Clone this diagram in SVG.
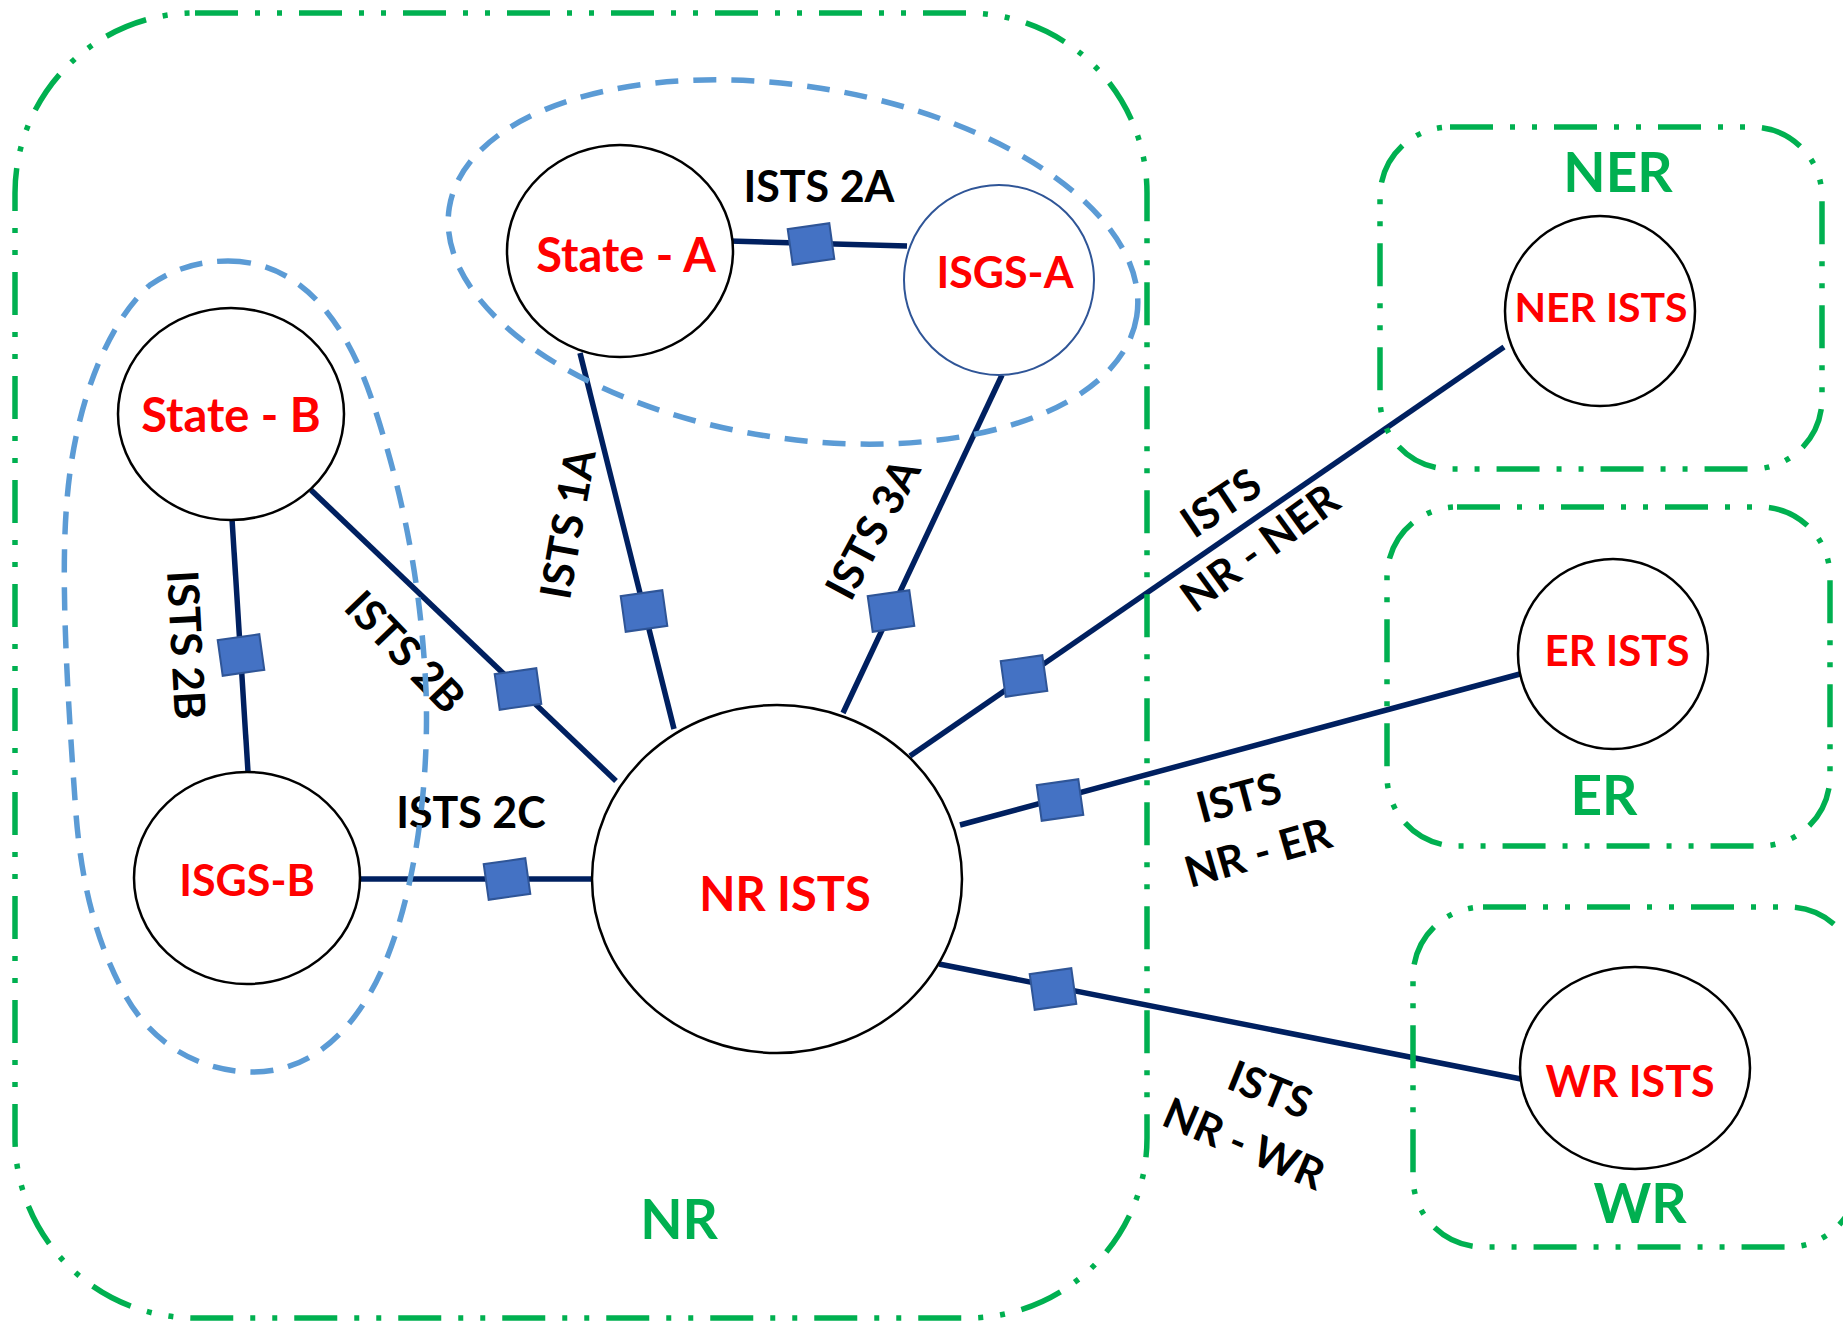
<svg xmlns="http://www.w3.org/2000/svg" width="1843" height="1321" viewBox="0 0 1843 1321">
<style>
.region{fill:none;stroke:#00B050;stroke-width:5.5;stroke-dasharray:43 17 5 17 5 17}
.cluster{fill:none;stroke:#5B9BD5;stroke-width:5.5;stroke-dasharray:23 15}
.link{stroke:#002060;stroke-width:5.5;fill:none}
.sq{fill:#4472C4;stroke:#2F5597;stroke-width:2}
.node{fill:#FFFFFF;stroke:#000000;stroke-width:2.5}
.nodeb{fill:#FFFFFF;stroke:#2F5597;stroke-width:2}
.red{fill:#FF0000;font-family:Lato,"Open Sans",sans-serif;font-weight:bold;text-anchor:middle}
.blk{fill:#000000;font-family:Lato,"Open Sans",sans-serif;font-weight:bold;font-size:43px;text-anchor:middle}
.grn{fill:#00B050;font-family:Lato,"Open Sans",sans-serif;font-weight:bold;font-size:55px;text-anchor:middle}
</style>
<defs>
<rect id="sq" class="sq" x="-21" y="-18" width="42" height="36"/>
</defs>
<rect width="1843" height="1321" fill="#FFFFFF"/>

<g id="connectors">
<line class="link" x1="729" y1="241" x2="907" y2="246"/>
<line class="link" x1="580" y1="353" x2="674" y2="729"/>
<line class="link" x1="1002" y1="375" x2="843" y2="713"/>
<line class="link" x1="232" y1="519" x2="248" y2="772"/>
<line class="link" x1="311" y1="490" x2="616" y2="781"/>
<line class="link" x1="359" y1="879" x2="592" y2="879"/>
<line class="link" x1="910" y1="756" x2="1504" y2="347"/>
<line class="link" x1="960" y1="825" x2="1520" y2="674"/>
<line class="link" x1="939" y1="964" x2="1521" y2="1079"/>
<use href="#sq" transform="translate(811,244) rotate(-8)"/>
<use href="#sq" transform="translate(644,611) rotate(-8)"/>
<use href="#sq" transform="translate(891,611) rotate(-8)"/>
<use href="#sq" transform="translate(241,655) rotate(-8)"/>
<use href="#sq" transform="translate(518,689) rotate(-8)"/>
<use href="#sq" transform="translate(507,879) rotate(-8)"/>
<use href="#sq" transform="translate(1024,676) rotate(-8)"/>
<use href="#sq" transform="translate(1060,800) rotate(-8)"/>
<use href="#sq" transform="translate(1053,989) rotate(-8)"/>
</g>

<g id="node-state-a">
<ellipse class="node" cx="620" cy="251" rx="113" ry="106"/>
<text class="red" x="626" y="272" font-size="47">State - A</text>
</g>
<g id="node-isgs-a">
<ellipse class="nodeb" cx="999" cy="280" rx="95" ry="95"/>
<text class="red" x="1005" y="288" font-size="43">ISGS-A</text>
</g>
<g id="node-state-b">
<ellipse class="node" cx="231" cy="414" rx="113" ry="106"/>
<text class="red" x="231" y="432" font-size="47">State - B</text>
</g>
<g id="node-isgs-b">
<ellipse class="node" cx="247" cy="878" rx="113" ry="106"/>
<text class="red" x="247" y="896" font-size="43">ISGS-B</text>
</g>
<g id="node-nr-ists">
<ellipse class="node" cx="777" cy="879" rx="185" ry="174"/>
<text class="red" x="785" y="911" font-size="47">NR ISTS</text>
</g>
<g id="node-ner-ists">
<ellipse class="node" cx="1600" cy="311" rx="95" ry="95"/>
<text class="red" x="1601" y="322" font-size="41">NER ISTS</text>
</g>
<g id="node-er-ists">
<ellipse class="node" cx="1613" cy="654" rx="95" ry="95"/>
<text class="red" x="1617" y="666" font-size="42">ER ISTS</text>
</g>
<g id="node-wr-ists">
<ellipse class="node" cx="1635" cy="1068" rx="115" ry="101"/>
<text class="red" x="1630" y="1097" font-size="43">WR ISTS</text>
</g>

<g id="region-nr">
<rect class="region" x="15" y="13" width="1132" height="1305" rx="180" ry="180"/>
<text class="grn" x="679" y="1239">NR</text>
</g>
<g id="region-ner">
<rect class="region" x="1380" y="127" width="442" height="342" rx="70" ry="70"/>
<text class="grn" x="1618" y="192">NER</text>
</g>
<g id="region-er">
<rect class="region" x="1387" y="507" width="443" height="339" rx="70" ry="70"/>
<text class="grn" x="1604" y="815">ER</text>
</g>
<g id="region-wr">
<rect class="region" x="1413" y="907" width="445" height="340" rx="70" ry="70"/>
<text class="grn" x="1640" y="1223">WR</text>
</g>

<g id="edge-labels">
<text class="blk" x="819" y="202">ISTS 2A</text>
<text class="blk" x="471" y="828">ISTS 2C</text>
<text class="blk" transform="translate(568,524) rotate(-80)" y="15">ISTS 1A</text>
<text class="blk" transform="translate(873,529) rotate(-62)" y="15">ISTS 3A</text>
<text class="blk" transform="translate(186,645) rotate(87)" y="15">ISTS 2B</text>
<text class="blk" transform="translate(405,652) rotate(46)" y="15">ISTS 2B</text>
<text class="blk" transform="translate(1221,503) rotate(-34)" y="15">ISTS</text>
<text class="blk" transform="translate(1260,548) rotate(-36)" y="15">NR - NER</text>
<text class="blk" transform="translate(1239,798) rotate(-15)" y="15">ISTS</text>
<text class="blk" transform="translate(1258,853) rotate(-16)" y="15">NR - ER</text>
<text class="blk" transform="translate(1270,1090) rotate(22)" y="15">ISTS</text>
<text class="blk" transform="translate(1244,1144) rotate(23)" y="15">NR - WR</text>
</g>

<g id="clusters">
<ellipse class="cluster" cx="793" cy="262" rx="348" ry="176" transform="rotate(9 793 262)"/>
<path class="cluster" d="M228,261 C300,261 345,320 372,400 C395,470 420,560 426,690 C430,800 410,930 366,1000 C335,1050 295,1072 254,1072 C195,1072 150,1040 125,995 C95,940 80,880 75,800 C68,700 60,580 67,500 C75,400 110,320 150,285 C175,268 200,261 228,261 Z"/>
</g>
</svg>
